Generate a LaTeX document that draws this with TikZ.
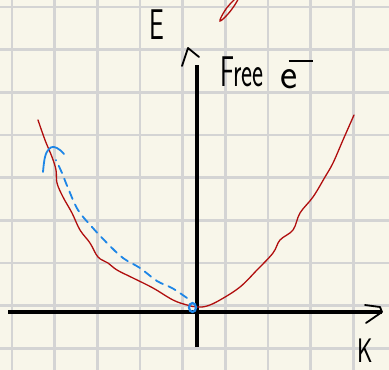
\documentclass[tikz,border=0pt]{standalone}
\usepackage{tikz}
\usetikzlibrary{calc, positioning}
\usepackage{xcolor}
\definecolor{paper}{RGB}{248, 246, 234}
\definecolor{gridgray}{RGB}{212, 212, 212}
\definecolor{bandred}{RGB}{176, 14, 14}
\definecolor{pathblue}{RGB}{30, 134, 230}

\begin{document}
\begin{tikzpicture}[x=1pt, y=-1pt,
  hand/.style={font=\fontsize{43}{43}\selectfont\sffamily, inner sep=0pt},
  axis/.style={black, line width=3.3pt},
  tip/.style={black, line width=1.8pt, line cap=round, line join=round}]
  \useasboundingbox (0,0) rectangle (389,370);
  \fill[paper] (0,0) rectangle (389,370);
  % grid paper
  \foreach \i in {0,...,8} {
    \draw[gridgray, line width=2.6pt] ({12+42.65*\i},0) -- ({12+42.65*\i},370);
    \draw[gridgray, line width=2.6pt] (0,{7+42.65*\i}) -- (389,{7+42.65*\i});
  }
  % axes
  \coordinate (O) at (197,312);
  \coordinate (kL) at (8,312);
  \coordinate (kR) at (382,312);
  \coordinate (eB) at (197,347);
  \coordinate (eT) at (197,65);
  \draw[axis] (kL) -- (kR);
  \draw[axis] (eB) -- (eT);
  \draw[tip] ($(kR)+(-17,-7)$) -- ($(kR)+(-2,-5)$) -- (kR) -- ($(kR)+(-16,11)$);
  \draw[tip] ($(eT)+(-15,1)$) -- ($(eT)+(-9,-17)$) -- ($(eT)+(2,-8)$);
  \node[hand, xscale=0.61] (elab) at (157,25) {E};
  \node[hand, xscale=0.61, anchor=base west] (freelab) at (220,86) {Free};
  \node[hand, xscale=0.95, anchor=base west] (elec) at (280,88)
    {e\kern-9pt\rule[26pt]{26pt}{2pt}};
  \node[hand, font=\fontsize{34}{34}\selectfont\sffamily, xscale=0.7] (klab) at (365,351) {K};
  % free electron band
  \draw[bandred, line width=1.3pt, line cap=round] plot[smooth, tension=0.6] coordinates {
    (38,120) (45,140) (52,157) (56,170) (57,183) (63,197) (72,213) (80,230)
    (90,243) (98,257) (108,263) (117,270) (133,278) (153,288) (173,300)
    (187,305) (197,307) (207,306) (220,300) (240,287) (257,270) (273,253)
    (280,240) (293,230) (300,213) (313,197) (325,177) (333,163) (343,140) (354,115)};
  \draw[bandred, line width=1.3pt] plot[smooth cycle, tension=0.7] coordinates {
    (220,21) (224,12) (231,3) (239,-4) (236,3) (228,14)};
  % path of the state
  \draw[pathblue, line width=1.8pt, dash pattern=on 8pt off 6pt, line cap=round]
    plot[smooth, tension=0.6] coordinates {
    (187,298) (172,288) (157,281) (140,268) (123,258) (107,243) (92,227)
    (78,210) (68,188) (62,173) (56,160)};
  \draw[pathblue, line width=1.8pt, line cap=round] plot[smooth, tension=0.7] coordinates {
    (43,172) (45,157) (49,149) (54,147) (60,150) (64,154)};
  \draw[pathblue, line width=2.2pt] (192.5,307.5) ellipse [x radius=3.5, y radius=4.5];
\end{tikzpicture}
\end{document}
